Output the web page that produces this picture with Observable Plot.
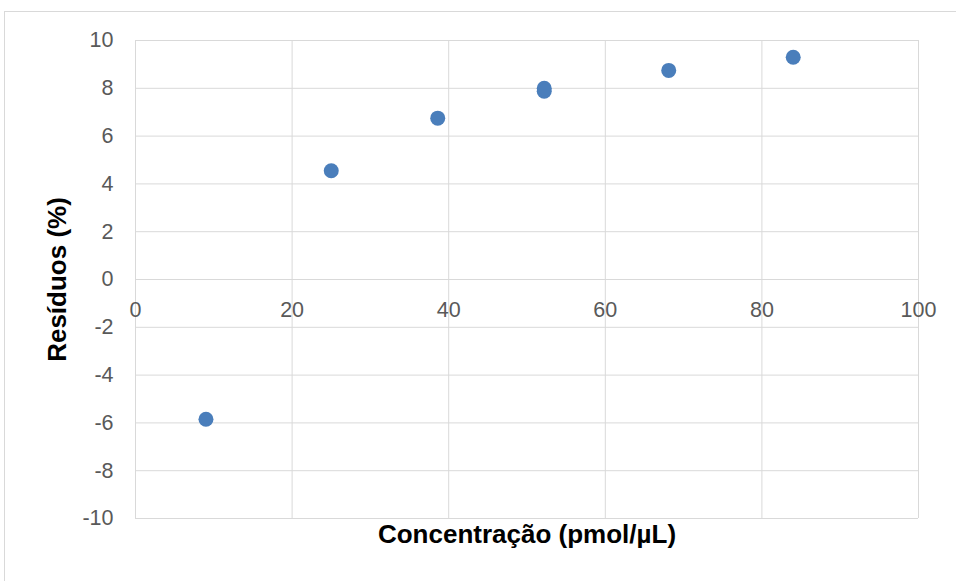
<!DOCTYPE html>
<html>
<head>
<meta charset="utf-8">
<script src="https://cdn.jsdelivr.net/npm/d3@7"></script>
<script src="https://cdn.jsdelivr.net/npm/@observablehq/plot@0.6"></script>
<style>
  html, body { margin: 0; padding: 0; background: #fff; overflow: hidden; }
  #frame { position: absolute; left: 4px; top: 11px; width: 980px; height: 600px; border: 1px solid #d9d9d9; box-sizing: border-box; pointer-events: none; }
  #chart { position: absolute; left: 0; top: 0; }
</style>
</head>
<body>
<div id="frame"></div>
<div id="chart"></div>
<script>
const concentration = [9.0, 25.0, 38.6, 52.2, 52.2, 68.1, 84.0];
const residuals = [-5.85, 4.55, 6.75, 8.0, 7.88, 8.75, 9.3];
const xTicks = [0, 20, 40, 60, 80, 100];
const yTicks = [-10, -8, -6, -4, -2, 0, 2, 4, 6, 8, 10];
const xLabel = "Concentração (pmol/µL)";
const yLabel = "Resíduos (%)";

const data = concentration.map((c, i) => ({x: c, y: residuals[i]}));

const chart = Plot.plot({
  width: 956,
  height: 581,
  marginLeft: 135,
  marginRight: 38,
  marginTop: 40,
  marginBottom: 63,
  style: {fontFamily: "Liberation Sans, Arial, sans-serif", background: "transparent"},
  x: {domain: [0, 100], axis: null},
  y: {domain: [-10, 10], axis: null},
  marks: [
    Plot.gridX(xTicks, {stroke: "#d9d9d9", strokeOpacity: 1, strokeWidth: 1}),
    Plot.gridY(yTicks, {stroke: "#d9d9d9", strokeOpacity: 1, strokeWidth: 1}),
    Plot.axisY(yTicks, {tickSize: 0, tickPadding: 22, fontSize: 21.5, fill: "#595959", label: null, tickFormat: d => String(d)}),
    Plot.text(xTicks, {x: d => d, y: 0, dy: 31, text: d => String(d), fontSize: 21.5, fill: "#595959"}),
    Plot.dot(data, {x: "x", y: "y", r: 7.5, fill: "#4a7ebb", stroke: "none"}),
    Plot.text([xLabel], {frameAnchor: "bottom", dy: 24, text: d => d, fontSize: 26, fontWeight: "bold", fill: "#000", textAnchor: "middle"}),
    Plot.text([yLabel], {frameAnchor: "left", dx: -78, rotate: -90, text: d => d, fontSize: 26, fontWeight: "bold", fill: "#000", textAnchor: "middle"})
  ]
});
document.getElementById("chart").appendChild(chart);
</script>
</body>
</html>
